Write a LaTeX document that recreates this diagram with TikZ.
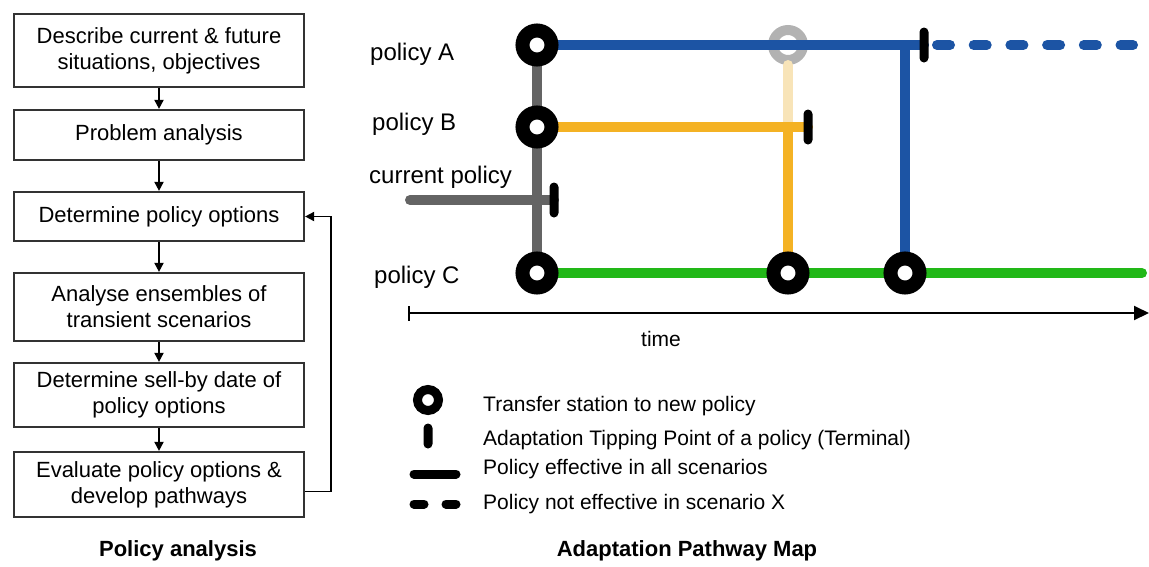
\documentclass[tikz,border=0pt]{standalone}
\usepackage{fontspec}
\setmainfont{Liberation Sans}
\usetikzlibrary{calc,arrows.meta,backgrounds}

\definecolor{bleuA}{RGB}{28,84,164}
\definecolor{orangeB}{RGB}{244,178,36}
\definecolor{orangepale}{RGB}{248,228,184}
\definecolor{vertC}{RGB}{34,184,24}
\definecolor{grisact}{RGB}{100,100,100}

\tikzset{
  etape/.style={draw=black!80, line width=2.2pt, minimum width=290pt, align=center,
    inner sep=0pt, font=\fontsize{22}{26}\selectfont},
  fleche/.style={line width=1.8pt, -{Triangle[length=9pt,width=9pt]}},
  texte/.style={inner sep=0pt, font=\fontsize{21}{26}\selectfont},
  politique/.style={inner sep=0pt, anchor=west, font=\fontsize{24}{28}\selectfont},
  titre/.style={inner sep=0pt, font=\fontsize{22}{26}\selectfont\bfseries},
  station/.style={circle, draw=black, fill=white, line width=14pt, minimum size=29pt, inner sep=0pt},
  stationpale/.style={circle, draw=black!30, line width=10pt, minimum size=30pt, inner sep=0pt},
  basculement/.style={rectangle, fill=black, rounded corners=4.5pt, minimum width=9pt, minimum height=35pt, inner sep=0pt},
  voie/.style={line width=10pt, line cap=round}
}

\begin{document}
\begin{tikzpicture}[x=1pt,y=-1pt]
  \useasboundingbox (0,0) rectangle (1149,566);

  % ANALYSE DE POLITIQUE
  \node[etape, minimum height=73pt] (b1) at (159,50.5) {Describe current \& future\\situations, objectives};
  \node[etape, minimum height=50pt] (b2) at (159,135) {Problem analysis};
  \node[etape, minimum height=49pt] (b3) at (159,216.5) {Determine policy options};
  \node[etape, minimum height=68pt] (b4) at (159,307) {Analyse ensembles of\\transient scenarios};
  \node[etape, minimum height=64pt] (b5) at (159,395) {Determine sell-by date of\\policy options};
  \node[etape, minimum height=65pt] (b6) at (159,484.5) {Evaluate policy options \&\\develop pathways};

  \draw[fleche] (b1) -- (b2);
  \draw[fleche] (b2) -- (b3);
  \draw[fleche] (b3) -- (b4);
  \draw[fleche] (b4) -- (b5);
  \draw[fleche] (b5) -- (b6);
  \draw[fleche] ($(b6.east)+(0,7)$) -- ++(26,0) |- (b3.east);

  \node[titre] (pa) at (178,551) {Policy analysis};

  % STATIONS
  \node[station] (sA) at (537,45) {};
  \node[station] (sB) at (537,127) {};
  \node[station] (sC) at (537,273) {};
  \node[station] (sC1) at (788,273) {};
  \node[station] (sC2) at (905,273) {};

  % POINTS DE BASCULEMENT
  \node[basculement] (tA) at (924,45) {};
  \node[basculement] (tB) at (808,127) {};
  \node[basculement] (tX) at (554,200) {};

  \coordinate (xA) at (905,45);
  \coordinate (xB) at (788,127);
  \coordinate (dA) at (932,45);
  \coordinate (fA) at (1133,45);
  \coordinate (dX) at (410,200);
  \coordinate (fC) at (1142,273);

  % VOIES
  \begin{pgfonlayer}{background}
    \draw[voie, grisact] (sA.center) -- (sC.center);
    \node[stationpale] (sA1) at (788,45) {};
    \draw[voie, orangepale] (sA1.south) -- (xB);
    \draw[voie, orangeB] (sB.center) -- (tB.center);
    \draw[voie, orangeB] (xB) -- (sC1.center);
    \draw[voie, bleuA] (sA.center) -- (tA.center);
    \draw[voie, bleuA] (xA) -- (sC2.center);
    \draw[voie, bleuA, dash pattern=on 13pt off 23.7pt, dash phase=-5pt] (dA) -- (fA);
    \draw[voie, grisact] (dX) -- (tX.center);
    \draw[voie, vertC] (sC.center) -- (fC);
  \end{pgfonlayer}

  \node[politique] (lA) at (370,54) {policy A};
  \node[politique] (lB) at (372,124) {policy B};
  \node[politique] (lX) at (369,177) {current policy};
  \node[politique] (lC) at (374,277) {policy C};

  % AXE DU TEMPS
  \coordinate (t0) at (408,313);
  \coordinate (t1) at (1149,313);
  \draw[line width=2pt, {Bar[width=15pt]}-{Triangle[length=15pt,width=14pt]}] (t0) -- (t1);
  \node[texte] (tt) at (661,339) {time};

  % LEGENDE
  \node[station, line width=9pt, minimum size=21pt] (lg1) at (428,400) {};
  \node[basculement, minimum height=25pt] (lg2) at (428,436) {};
  \coordinate (lg3a) at (414,474);
  \coordinate (lg3b) at (456,474);
  \draw[line width=9pt, line cap=round] (lg3a) -- (lg3b);
  \coordinate (lg4a) at (414,504);
  \coordinate (lg4b) at (456,504);
  \draw[line width=9pt, line cap=round, dash pattern=on 10pt off 22pt] (lg4a) -- (lg4b);

  \node[texte, anchor=west] (tx1) at (483,406) {Transfer station to new policy};
  \node[texte, anchor=west] (tx2) at (483,440) {Adaptation Tipping Point of a policy (Terminal)};
  \node[texte, anchor=west] (tx3) at (483,469) {Policy effective in all scenarios};
  \node[texte, anchor=west] (tx4) at (483,504) {Policy not effective in scenario X};

  \node[titre] (apm) at (687,551) {Adaptation Pathway Map};
\end{tikzpicture}
\end{document}
